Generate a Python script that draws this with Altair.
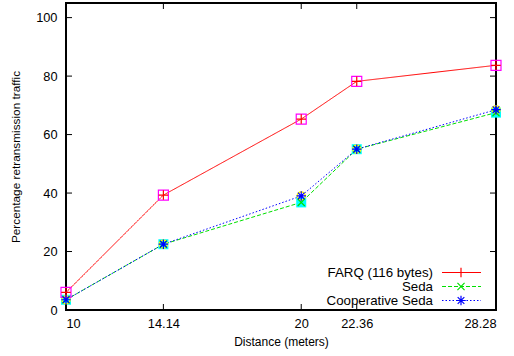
import altair as alt
import pandas as pd

distance = [10, 14.14, 20, 22.36, 28.28]
farq = [6.0, 39.3, 65.3, 78.2, 83.7]
seda = [3.5, 22.5, 36.8, 55.0, 67.5]
coop = [3.5, 22.5, 39.0, 55.0, 68.5]
series_names = ["FARQ (116 bytes)", "Seda", "Cooperative Seda"]
series_colors = ["#ff0000", "#00e000", "#0000ff"]
y_ticks = [0, 20, 40, 60, 80, 100]

FONT = "Liberation Sans"

rows = []
for name, vals in zip(series_names, [farq, seda, coop]):
    for d, v in zip(distance, vals):
        rows.append({"distance": d, "value": v, "series": name})
df = pd.DataFrame(rows)

xs = alt.Scale(domain=[10, 28.28], nice=False, zero=False)
ys = alt.Scale(domain=[0, 105], nice=False, zero=False)

X = alt.X("distance:Q", scale=xs,
          axis=alt.Axis(values=distance, format=".4~g", ticks=False, domain=False, grid=False,
                        labelPadding=7, title="Distance (meters)", titlePadding=7, titleFontSize=12))
Y = alt.Y("value:Q", scale=ys,
          axis=alt.Axis(values=y_ticks, ticks=False, domain=False, grid=False,
                        labelPadding=9, title="Percentage retransmission traffic", titlePadding=14,
                        titleFontSize=11.8))

color = alt.Color("series:N", scale=alt.Scale(domain=series_names, range=series_colors), legend=None)
dash = alt.StrokeDash("series:N", scale=alt.Scale(domain=series_names, range=[[1, 0], [4, 2], [1.5, 2]]), legend=None)

base = alt.Chart(df)
lines = base.mark_line(strokeWidth=1).encode(x=X, y=Y, color=color, strokeDash=dash, detail="series:N")

def pts(name):
    return base.transform_filter(alt.datum.series == name)

cyan_sq = pts("Seda").mark_point(shape="square", filled=True, color="#00ffff", opacity=1, size=100).encode(
    x=alt.X("distance:Q", scale=xs), y=alt.Y("value:Q", scale=ys))
yellow_c = pts("Cooperative Seda").mark_point(shape="circle", filled=False, color="#ffff00", opacity=1,
                                               size=64, strokeWidth=1.5).encode(
    x=alt.X("distance:Q", scale=xs), y=alt.Y("value:Q", scale=ys))
mag_sq = pts("FARQ (116 bytes)").mark_point(shape="square", filled=False, color="#ff00ff", opacity=1,
                                             size=100, strokeWidth=1.2).encode(
    x=alt.X("distance:Q", scale=xs), y=alt.Y("value:Q", scale=ys))

PLUS = "M-1,0L1,0M0,-1L0,1"
CROSS = "M-0.75,-0.75L0.75,0.75M-0.75,0.75L0.75,-0.75"
STAR = "M-1,0L1,0M0,-1L0,1M-0.7,-0.7L0.7,0.7M-0.7,0.7L0.7,-0.7"
shapes = [PLUS, CROSS, STAR]

markers = []
for name, col, shp in zip(series_names, series_colors, shapes):
    markers.append(pts(name).mark_point(shape=shp, filled=False, color=col, opacity=1, size=90,
                                        strokeWidth=1.2).encode(
        x=alt.X("distance:Q", scale=xs), y=alt.Y("value:Q", scale=ys)))

# inward tick marks (frame decoration)
ytdf = pd.DataFrame({"value": y_ticks})
xtdf = pd.DataFrame({"distance": distance})
PW, PH = 430, 307
TL = 6
ytick_l = alt.Chart(ytdf).mark_rule(color="black", strokeWidth=1).encode(
    y=alt.Y("value:Q", scale=ys), x=alt.value(0), x2=alt.value(TL))
ytick_r = alt.Chart(ytdf).mark_rule(color="black", strokeWidth=1).encode(
    y=alt.Y("value:Q", scale=ys), x=alt.value(PW - TL), x2=alt.value(PW))
xtick_b = alt.Chart(xtdf).mark_rule(color="black", strokeWidth=1).encode(
    x=alt.X("distance:Q", scale=xs), y=alt.value(PH), y2=alt.value(PH - TL))
xtick_t = alt.Chart(xtdf).mark_rule(color="black", strokeWidth=1).encode(
    x=alt.X("distance:Q", scale=xs), y=alt.value(0), y2=alt.value(TL))

# legend (inside bottom right)
leg_layers = []
leg_y = [269.5, 283.5, 297.5]
leg_df = pd.DataFrame({"series": series_names})
for i, (name, col, shp) in enumerate(zip(series_names, series_colors, shapes)):
    d = leg_df[leg_df.series == name]
    dsh = [[1, 0], [4, 2], [1.5, 2]][i]
    leg_layers.append(alt.Chart(d).mark_text(align="right", baseline="middle", font=FONT, fontSize=13.3,
                                             color="black").encode(
        text="series:N", x=alt.value(367), y=alt.value(leg_y[i])))
    leg_layers.append(alt.Chart(d).mark_rule(color=col, strokeWidth=1, strokeDash=dsh).encode(
        x=alt.value(376), x2=alt.value(415), y=alt.value(leg_y[i])))
    leg_layers.append(alt.Chart(d).mark_point(shape=shp, filled=False, color=col, opacity=1, size=90,
                                              strokeWidth=1.2).encode(
        x=alt.value(395), y=alt.value(leg_y[i])))

chart = alt.layer(
    lines, cyan_sq, yellow_c, mag_sq, *markers,
    ytick_l, ytick_r, xtick_b, xtick_t, *leg_layers
).properties(
    width=PW, height=PH,
    padding={"left": 66, "top": 3, "right": 18, "bottom": 46},
    autosize=alt.AutoSizeParams(type="none"),
    background="white",
).configure_view(
    stroke="black", strokeWidth=2
).configure_axis(
    labelFont=FONT, titleFont=FONT, labelFontSize=12.8,
    labelColor="black", titleColor="black", titleFontWeight="normal"
)

chart.save("out.html", embed_options={"renderer": "svg", "actions": False})
